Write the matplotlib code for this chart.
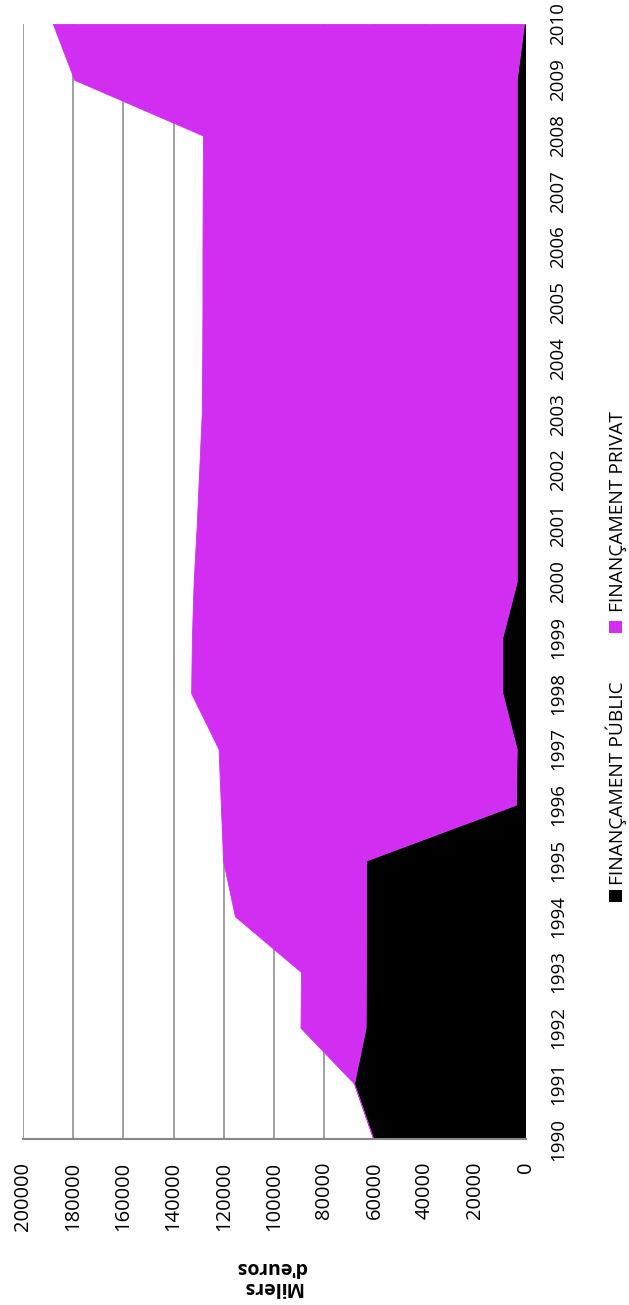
import matplotlib
matplotlib.use("Agg")
import matplotlib.pyplot as plt
from matplotlib.patches import Rectangle

plt.rcParams['font.family'] = ['Open Sans', 'DejaVu Sans']

# ---- data (Milers d'euros) ----
years = list(range(1990, 2011))
public = [60500, 68200, 63600, 63500, 63400, 63400, 3800, 3500, 9200, 9200,
          3500, 3500, 3500, 3500, 3500, 3500, 3500, 3500, 3500, 3500, 600]
private = [0, 0, 25900, 25800, 52200, 56900, 117400, 118600, 123800, 123500,
           128500, 127300, 126300, 125300, 125100, 125000, 125000, 124900, 124800, 176000, 187400]
value_ticks = [0, 20000, 40000, 60000, 80000, 100000, 120000, 140000, 160000, 180000, 200000]
legend_labels = ['FINANÇAMENT PÚBLIC', 'FINANÇAMENT PRIVAT']
axis_title = "Milers\nd'euros"

PURPLE = '#D12EF1'
GRID = '#868686'

W, H = 629, 1305
fig = plt.figure(figsize=(W / 100, H / 100), dpi=100)

# plot area (chart drawn rotated: years vertical, values horizontal, 0 on the right)
px0, px1, py_top, py_bot = 22.7, 525.5, 24.0, 1139.3
ax = fig.add_axes([px0 / W, 1 - py_bot / H, (px1 - px0) / W, (py_bot - py_top) / H])

total = [p + q for p, q in zip(public, private)]
ax.fill_betweenx(years, 0, public, color='black', lw=0)
ax.fill_betweenx(years, public, total, facecolor=PURPLE, edgecolor=PURPLE, lw=0.6)

ax.set_ylim(years[0], years[-1])
ax.set_xlim(value_ticks[-1], value_ticks[0])

ax.set_xticks(value_ticks)
ax.set_xticklabels([str(v) for v in value_ticks], rotation=90, fontsize=14.5, color='black')
ax.tick_params(axis='x', length=0, pad=16)

ax.set_yticks(years)
ax.yaxis.tick_right()
ax.set_yticklabels([str(y) for y in years], fontsize=13.5)
ax.tick_params(axis='y', length=0, pad=27)
for lbl in ax.yaxis.get_ticklabels():
    lbl.set_rotation(90)
    lbl.set_rotation_mode('anchor')
    lbl.set_horizontalalignment('center')
    lbl.set_verticalalignment('baseline')

ax.grid(axis='x', color=GRID, lw=1.1)
ax.grid(axis='y', visible=False)
ax.set_axisbelow(True)
for s in ['top', 'left', 'right']:
    ax.spines[s].set_visible(False)
ax.spines['bottom'].set_color(GRID)
ax.spines['bottom'].set_linewidth(1.5)

# axis title (rotated with the chart)
fig.text(272 / W, 1 - 1277 / H, axis_title, rotation=180, ha='center', va='center',
         fontweight='bold', fontsize=14, linespacing=1.0, multialignment='center')

# legend (rotated)
sq = 12.5
for color, cy, label, ty in [('black', 896, legend_labels[0], 885),
                             (PURPLE, 627, legend_labels[1], 612)]:
    fig.patches.append(Rectangle(((615.5 - sq / 2) / W, 1 - (cy + sq / 2) / H), sq / W, sq / H,
                                 transform=fig.transFigure, facecolor=color, edgecolor='none'))
    fig.text(623 / W, 1 - ty / H, label, rotation=90, rotation_mode='anchor',
             ha='left', va='baseline', fontsize=13.8)

fig.savefig('out.png', dpi=100, facecolor='white')
